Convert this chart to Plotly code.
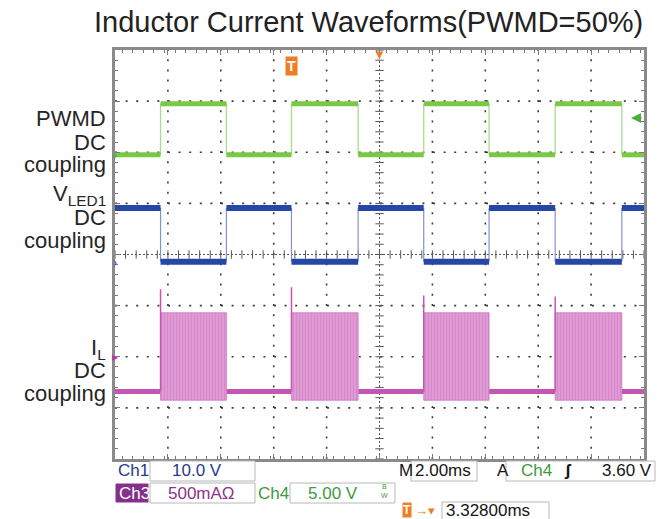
import plotly.graph_objects as go

time_per_div_ms = 2.0
trigger_pos_ms = 3.328           # horizontal position (centre of screen relative to trigger)
trigger_level_v = 3.60

rise_ms = [-4.95, 0.00, 5.00, 9.97]      # PWMD rising edges (ms, relative to trigger)
fall_ms = [-2.46, 2.52, 7.47, 12.49]     # PWMD falling edges

pwmd_low_v, pwmd_high_v = 0.0, 5.0       # Ch4, 5.00 V/div
vled_low_v, vled_high_v = 0.0, 10.5      # Ch1, 10.0 V/div
il_base_ma = -340                        # Ch3, 500 mA/div
il_burst_top_ma = [430, 430, 430, 430]
il_burst_bot_ma = [-425, -425, -425, -425]
il_spike_ma = [660, 680, 600, 590]

# channel vertical settings (volts or mA per division, ground position in divisions)
ch4_scale, ch4_ground = 5.0, 1.95
ch1_scale, ch1_ground = 10.0, -0.14
ch3_scale, ch3_ground = 500.0, -2.0

# ---------------- build traces ----------------
t0 = trigger_pos_ms - 5 * time_per_div_ms
t1 = trigger_pos_ms + 5 * time_per_div_ms
bounds = [t0]
for r, f in zip(rise_ms, fall_ms):
    bounds += [r, f]
bounds.append(t1)


def bands(low, high, invert=False):
    xs, ys = [], []
    for i in range(len(bounds) - 1):
        hi = (i % 2 == 1) != invert
        lvl = high if hi else low
        xs += [bounds[i], bounds[i + 1], None]
        ys += [lvl, lvl, None]
    return xs, ys


def edges(low, high):
    xs, ys = [], []
    for b in bounds[1:-1]:
        xs += [b, b, None]
        ys += [low, high, None]
    return xs, ys


fig = go.Figure()

GREEN, GREEN_E = "#79c946", "#a9dc8a"
BLUE, BLUE_E = "#2747a6", "#7f93d2"
PINK, PINK_L = "#c455b4", "#eab8e1"
GRID = "#3c3c3c"

# dotted division grid (10 x 8 divisions)
gx, gy = [], []
for k in range(1, 10):
    if k == 5:
        continue
    xv = t0 + k * time_per_div_ms
    gx += [xv, xv, None]
    gy += [-4, 4, None]
fig.add_trace(go.Scatter(x=gx, y=gy, mode="lines", hoverinfo="skip",
                         line=dict(color=GRID, width=1.6, dash="2px,8.2px")))
hx, hy = [], []
for k in range(-3, 4):
    if k == 0:
        continue
    hx += [t0, t1, None]
    hy += [k, k, None]
fig.add_trace(go.Scatter(x=hx, y=hy, mode="lines", hoverinfo="skip",
                         line=dict(color=GRID, width=1.6, dash="2px,8.6px")))

# centre cross-hair with tick marks
minor_x = [t0 + k * time_per_div_ms / 5 for k in range(51)]
minor_y = [-4 + k * 0.2 for k in range(41)]
fig.add_trace(go.Scatter(x=[trigger_pos_ms, trigger_pos_ms], y=[-4, 4], mode="lines",
                         line=dict(color="#555", width=1, dash="2px,2px"), hoverinfo="skip"))
fig.add_trace(go.Scatter(x=[t0, t1], y=[0, 0], mode="lines",
                         line=dict(color="#555", width=1, dash="2px,2px"), hoverinfo="skip"))
fig.add_trace(go.Scatter(x=minor_x, y=[0] * len(minor_x), mode="markers", hoverinfo="skip",
                         marker=dict(symbol="line-ns", size=6, line=dict(color="#555", width=1))))
fig.add_trace(go.Scatter(x=[trigger_pos_ms] * len(minor_y), y=minor_y, mode="markers",
                         hoverinfo="skip",
                         marker=dict(symbol="line-ew", size=6, line=dict(color="#555", width=1))))

# PWMD (Ch4)
ex, ey = edges(pwmd_low_v, pwmd_high_v)
fig.add_trace(go.Scatter(x=ex, y=ey, mode="lines", yaxis="y2",
                         line=dict(color=GREEN_E, width=1.3), hoverinfo="skip"))
bx, by = bands(pwmd_low_v, pwmd_high_v)
fig.add_trace(go.Scatter(x=bx, y=by, mode="lines", yaxis="y2",
                         line=dict(color=GREEN, width=5), hoverinfo="skip"))

# VLED1 (Ch1) - inverted phase
ex, ey = edges(vled_low_v, vled_high_v)
fig.add_trace(go.Scatter(x=ex, y=ey, mode="lines", yaxis="y3",
                         line=dict(color=BLUE_E, width=1.2), hoverinfo="skip"))
bx, by = bands(vled_low_v, vled_high_v, invert=True)
fig.add_trace(go.Scatter(x=bx, y=by, mode="lines", yaxis="y3",
                         line=dict(color=BLUE, width=6), hoverinfo="skip"))

# IL (Ch3)
base_x, base_y = [], []
for i in range(0, len(bounds) - 1, 2):
    base_x += [bounds[i], bounds[i + 1], None]
    base_y += [il_base_ma, il_base_ma, None]
fig.add_trace(go.Scatter(x=base_x, y=base_y, mode="lines", yaxis="y4",
                         line=dict(color=PINK, width=5), hoverinfo="skip"))
for r, f, top, bot, sp in zip(rise_ms, fall_ms, il_burst_top_ma, il_burst_bot_ma, il_spike_ma):
    fig.add_trace(go.Scatter(x=[r, r, f, f, r], y=[bot, top, top, bot, bot], mode="lines",
                             yaxis="y4", fill="toself", fillcolor=PINK_L,
                             fillpattern=dict(shape="|", fgcolor=PINK, bgcolor=PINK_L,
                                              size=3, solidity=0.72),
                             line=dict(color="#cf72c2", width=0.8), hoverinfo="skip"))
    fig.add_trace(go.Scatter(x=[r, r], y=[il_base_ma, sp], mode="lines", yaxis="y4",
                             line=dict(color=PINK, width=1.5), hoverinfo="skip"))

# ---------------- layout ----------------
W, H = 657, 519
L, R, T, B = 115, 13, 50, 60
PW, PH = W - L - R, H - T - B


def px(xp):
    return (xp - L) / PW


def py(yp):
    return (H - B - yp) / PH


FRAME = "#8a8a8a"
TICK = "#7a7a7a"

xaxis = dict(range=[t0, t1], tick0=trigger_pos_ms, dtick=time_per_div_ms,
             showticklabels=False, showgrid=False, zeroline=False,
             ticks="inside", ticklen=5, tickcolor=TICK, tickwidth=1,
             minor=dict(ticks="inside", ticklen=3, tickcolor=TICK, dtick=time_per_div_ms / 5,
                        showgrid=False),
             showline=True, linecolor=FRAME, linewidth=3, mirror="ticks", fixedrange=True)
yaxis = dict(range=[-4, 4], tick0=0, dtick=1, showticklabels=False,
             showgrid=False, zeroline=False, ticks="inside", ticklen=5, tickcolor=TICK,
             minor=dict(ticks="inside", ticklen=3, tickcolor=TICK, dtick=0.2, showgrid=False),
             showline=True, linecolor=FRAME, linewidth=3, mirror="ticks", fixedrange=True)


def chan_axis(scale, ground):
    return dict(overlaying="y", range=[(-4 - ground) * scale, (4 - ground) * scale],
                visible=False, fixedrange=True)


fig.update_layout(
    width=W, height=H, margin=dict(l=L, r=R, t=T, b=B, autoexpand=False),
    paper_bgcolor="white", plot_bgcolor="white", showlegend=False,
    xaxis=xaxis, yaxis=yaxis,
    yaxis2=chan_axis(ch4_scale, ch4_ground),
    yaxis3=chan_axis(ch1_scale, ch1_ground),
    yaxis4=chan_axis(ch3_scale, ch3_ground),
)

ann = []
FONT = "Liberation Sans, Arial, sans-serif"
ann.append(dict(text="Inductor Current Waveforms(PWMD=50%)", xref="paper", yref="paper",
                x=px(645), y=py(22), xanchor="right", yanchor="middle", showarrow=False,
                font=dict(family=FONT, size=29, color="#222")))

left_labels = [("PWMD", 119), ("DC", 142), ("coupling", 164),
               ("V<sub>LED1</sub>", 195), ("DC", 217), ("coupling", 240),
               ("I<sub>L</sub>", 349), ("DC", 370), ("coupling", 393)]
for txt, yy in left_labels:
    ann.append(dict(text=txt, xref="paper", yref="paper", x=px(108), y=py(yy),
                    xanchor="right", yanchor="middle", showarrow=False,
                    font=dict(family=FONT, size=22, color="#262626")))

# screen markers
ann.append(dict(text="<b>T</b>", xref="x", yref="paper", x=0, y=py(66), showarrow=False,
                bgcolor="#ef7d22", font=dict(family=FONT, size=14, color="white"),
                borderpad=1, xanchor="center", yanchor="middle"))
ann.append(dict(text="▼", xref="x", yref="paper", x=trigger_pos_ms, y=py(54), showarrow=False,
                font=dict(size=13, color="#ef7d22"), xanchor="center", yanchor="middle"))
ann.append(dict(text="", xref="paper", yref="y2", x=px(631), y=trigger_level_v,
                showarrow=True, ax=12, ay=0, arrowhead=2, arrowsize=1, arrowwidth=2,
                arrowcolor="#4caf3a"))
ann.append(dict(text="›", xref="paper", yref="y2", x=0, y=0, showarrow=False,
                font=dict(size=14, color="#4caf3a"), xanchor="center", yanchor="middle"))
ann.append(dict(text="›", xref="paper", yref="y3", x=0, y=0, showarrow=False,
                font=dict(size=14, color="#4a5aa8"), xanchor="center", yanchor="middle"))
ann.append(dict(text="▸", xref="paper", yref="y4", x=0, y=0, showarrow=False,
                font=dict(size=12, color="#b040a8"), xanchor="center", yanchor="middle"))

# status bar
shapes = []
BOX = "#b8b8b8"


def box(x0, x1, y0, y1, fill="white", line=BOX):
    shapes.append(dict(type="rect", xref="paper", yref="paper", x0=px(x0), x1=px(x1),
                       y0=py(y1), y1=py(y0), fillcolor=fill, line=dict(color=line, width=1),
                       layer="above"))


def text(t, x, y, color, size=17, anchor="left"):
    ann.append(dict(text=t, xref="paper", yref="paper", x=px(x), y=py(y), xanchor=anchor,
                    yanchor="middle", showarrow=False,
                    font=dict(family=FONT, size=size, color=color)))


NAVY, PURP, DGREEN, BLK = "#28398e", "#8e338c", "#3d9a3d", "#151515"
r1, r2, r3 = 471, 493, 510
box(150, 255, 461, 481)
box(411, 477, 461, 481)
box(506, 655, 461, 481)
box(116, 148, 484, 502, fill="#84308a", line="#84308a")
box(150, 255, 483, 503)
box(290, 395, 483, 503)
box(442, 549, 502, 520)

text("Ch1", 116, r1, NAVY)
text("10.0 V", 170, r1, NAVY)
text("M", 397, r1, BLK)
text("2.00ms", 413, r1, BLK)
text("A", 495, r1, BLK)
text("Ch4", 519, r1, DGREEN)
text("<b>ʃ</b>", 562, r1, BLK)
text("3.60 V", 600, r1, BLK)
text("Ch3", 117, r2, "white")
text("500mAΩ", 166, r2, PURP)
text("Ch4", 256, r2, DGREEN)
text("5.00 V", 306, r2, DGREEN)
text("B<br>W", 379, r2 - 2, DGREEN, size=7)
ann.append(dict(text="<b>T</b>", xref="paper", yref="paper", x=px(402), y=py(r3),
                showarrow=False, bgcolor="#ef7d22", borderpad=0, xanchor="left",
                yanchor="middle", font=dict(family=FONT, size=12, color="white")))
text("→▾", 413, r3, "#ef7d22", size=13)
text("3.32800ms", 444, r3, BLK)

fig.update_layout(annotations=ann, shapes=shapes)
fig.write_html("out.html", config={"displayModeBar": False},
               post_script="document.body.style.margin='0';document.body.style.overflow='hidden';")
